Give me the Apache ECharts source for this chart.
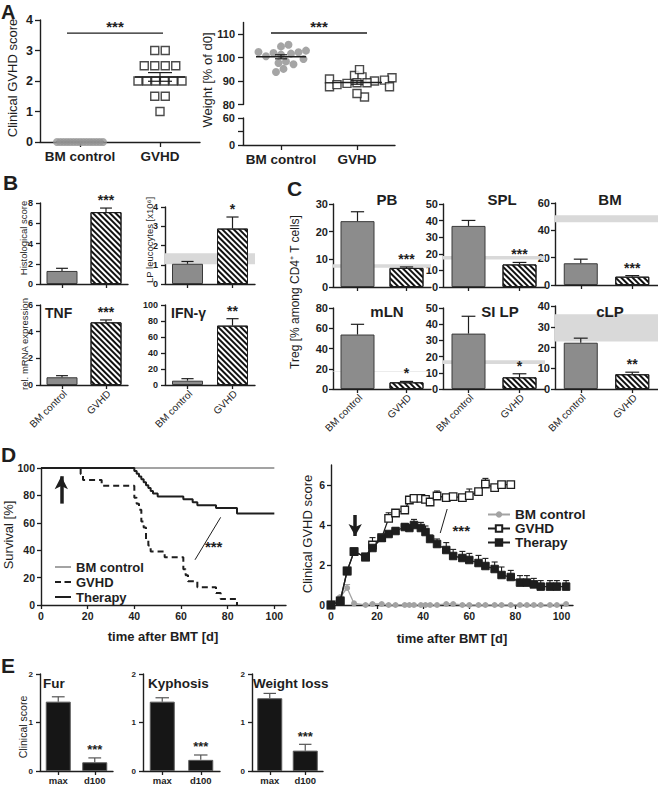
<!DOCTYPE html>
<html><head><meta charset="utf-8">
<script src="https://cdn.jsdelivr.net/npm/echarts@6/dist/echarts.min.js"></script>
<style>html,body{margin:0;padding:0;background:#fff}#c{width:658px;height:785px}</style>
</head><body><div id="c"></div>
<script>
// ===================== DATA =====================
const groups = ['BM control', 'GVHD'];

// A: per-mouse clinical score and weight
const aScoreBM = [0,0,0,0,0,0,0,0,0,0,0,0,0,0,0];
const aScoreGVHD = [3,3,2.5,2.5,2.5,2.5,2,2,2,2,2,2,1.5,1.5,1];
const aWeightBM = [104.8,105.5,101.7,102.4,102,102.3,103,101.3,100.6,99.4,98.4,97.2,97.7,93.9,95.2];
const aWeightGVHD = [90.9,92.4,91.8,91.4,94.9,90.4,90,89.3,87.6,87.6,89,89.3,83.2,84.7,88.5];
const aWeightTicks = [80,90,100,110];
const aWeightLowTicks = [0,30,60];
const aWeightLowLabels = [0,60];
const aStars = ['***','***'];

// B: BM control / GVHD means and SEM
const bHist = [1.29, 7.1],  bHistErr = [0.26, 0.4];
const bLP   = [1.05, 2.88], bLPErr   = [0.12, 0.6], bLPBand = [1.03, 1.6];
const bTNF  = [0.58, 4.7],  bTNFErr  = [0.12, 0.18];
const bIFN  = [5.4, 74.2],  bIFNErr  = [2.5, 8.7];
const bStars = ['***','*','***','**'];

// C: Treg frequencies
const cTissues = ['PB','SPL','BM','mLN','SI LP','cLP'];
const cBM      = [23.8, 36.8, 15.9, 53.8, 34.2, 22.3];
const cBMErr   = [3.4, 3.3, 3.0, 10.1, 10.7, 2.2];
const cGVHD    = [6.9, 13.6, 6.1, 6.6, 7.2, 7.1];
const cGVHDErr = [0.35, 1.2, 0.8, 0.9, 2.2, 1.0];
const cBandLow  = [7.0, 16.6, 46, 17.0, 15.4, 22.9];
const cBandHigh = [8.2, 18.6, 51, 17.6, 17.8, 36];
const cMax  = [30, 50, 60, 80, 50, 40];
const cStep = [10, 10, 20, 20, 10, 10];
const cStars = ['***','***','***','*','*','**'];

// D left: Kaplan-Meier survival [day, %]
const survBM = [[0,100],[100,100]];
const survGVHD = [[0,100],[17,95.7],[18,91.3],[26,87],[40,78.3],[41,73.9],[42,69.6],[43,60.9],[44,56.5],[45,47.8],[46,43.5],[47,39.1],[53,34.8],[61,26.1],[62,21.7],[63,17.4],[67,13],[75,8.7],[77,4.3],[84,0]];
const survTherapy = [[0,100],[40,97.9],[41,95.8],[42,93.8],[43,91.7],[44,89.6],[45,87.5],[46,85.4],[47,83.3],[48,81.3],[50,79.2],[61,77.1],[65,75],[67,72.9],[75,70.8],[84,66.7],[100,66.7]];
const dTicks = [0,20,40,60,80,100];

// D right: clinical score over time
const dDays = [0,4,7,10,15,18,22,25,28,32,34,36,39,41,43,46,50,53,57,60,64,67,71,74,78,82,85,88,91,95,98,102];
const dScoreGVHD = [0,0.2,1.7,2.67,2.4,3.0,3.37,4.33,4.6,4.75,5.25,5.33,5.33,5.28,5.15,5.45,5.37,5.42,5.37,5.47,5.67,6.05,5.87,6.02,6.02];
const dErrGVHD   = [0,0.05,0.1,0.15,0.1,0.37,0.12,0.28,0.15,0.12,0.1,0.15,0.15,0.12,0.1,0.25,0.12,0.1,0.1,0.33,0.15,0.28,0.1,0.1,0.1];
const dScoreTherapy = [0,0.2,1.7,2.67,2.4,2.85,3.35,3.55,3.7,3.9,3.85,4.0,3.85,3.65,3.3,3.05,2.75,2.45,2.35,2.25,2.1,1.95,1.8,1.5,1.4,1.12,1.12,1.03,0.92,0.92,0.92,0.92];
const dErrTherapy   = [0,0.05,0.1,0.15,0.1,0.15,0.12,0.12,0.15,0.15,0.12,0.28,0.28,0.3,0.2,0.25,0.37,0.33,0.33,0.33,0.38,0.38,0.35,0.4,0.33,0.35,0.35,0.3,0.3,0.3,0.3,0.3];
const dScoreBM = [0,0.4,0.85,0.08,0,0.05,0.05,0,0,0,0,0,0,0,0,0,0.05,0.05,0,0,0,0,0,0,0,0,0,0,0,0,0,0.05];
const dErrBM   = [0,0.05,0.17,0,0,0,0,0,0,0,0,0,0,0,0,0,0,0,0,0,0,0,0,0,0,0,0,0,0,0,0,0];
const dScoreTicks = [0,2,4,6];

// E: clinical sub-scores
const eSigns = ['Fur','Kyphosis','Weight loss'];
const eCats = ['max','d100'];
const eMax  = [1.43, 1.43, 1.5], eMaxErr  = [0.1, 0.08, 0.1];
const eD100 = [0.18, 0.23, 0.42], eD100Err = [0.09, 0.1, 0.13];
const eStars = ['***','***','***'];

// ===================== BUILD =====================
const FONT = "'Liberation Sans', Arial, Helvetica, sans-serif";
const INK = '#1e1e1e';
const grid = [], xAxis = [], yAxis = [], series = [], graphic = [];

function addGrid(box, xa, ya) {
  const i = grid.length;
  grid.push(box);
  xa.gridIndex = i; ya.gridIndex = i;
  xAxis.push(xa); yAxis.push(ya);
  return i;
}
function axisBase(fs, bold, margin) {
  return {
    axisLine: {show: true, onZero: false, lineStyle: {color: INK, width: 1.4}},
    axisTick: {show: true, inside: false, length: 4, lineStyle: {color: INK, width: 1.3}},
    splitLine: {show: false},
    axisLabel: {color: INK, fontFamily: FONT, fontSize: fs, fontWeight: bold === false ? 'normal' : 'bold', margin: margin == null ? 6 : margin}
  };
}
function valueAxis(min, max, interval, fs, margin, ticks, labels) {
  const a = axisBase(fs, true, margin);
  a.type = 'value'; a.min = min; a.max = max; a.interval = interval;
  if (ticks) { a.axisTick.customValues = ticks; a.axisLabel.customValues = labels || ticks; }
  return a;
}
function categoryAxis(data, fs, bold, margin) {
  const a = axisBase(fs, bold, margin);
  a.type = 'category'; a.data = data; a.boundaryGap = true;
  a.axisTick.alignWithLabel = true;
  a.axisLabel.interval = 0;
  return a;
}
function txt(text, x, y, size, opt) {
  opt = opt || {};
  graphic.push({type: 'text', x: x, y: y, rotation: opt.rot || 0, silent: true, z: 100,
    style: {text: text, x: 0, y: 0, fill: INK, fontFamily: FONT, fontSize: size,
      fontWeight: opt.weight || 'normal', align: opt.align || 'center', verticalAlign: 'middle',
      textAlign: opt.align || 'center', textVerticalAlign: 'middle'}});
}
const V = Math.PI / 2;

// slanted category labels (45 deg, hanging below the axis, ending at the tick)
function slantLabels(gi, cats, fs) {
  series.push({type: 'custom', xAxisIndex: gi, yAxisIndex: gi, z: 7, silent: true, clip: false,
    data: cats.map((c, i) => [i, yAxis[gi].min]), encode: {x: 0, y: 1},
    renderItem: function (params, api) {
      const p = api.coord([api.value(0), api.value(1)]);
      return {type: 'text', x: p[0] + 3, y: p[1] + 7, rotation: Math.PI / 4,
        style: {text: cats[params.dataIndex], x: 0, y: 0, align: 'right', verticalAlign: 'middle', fontSize: fs, fontFamily: FONT, fill: INK}};
    }});
}

// error bars (upward) + optional significance text
function errorBars(gi, vals, errs, stars, opt) {
  const items = vals.map((v, i) => [opt.xs ? opt.xs[i] : i, v, errs[i]]);
  series.push({type: 'custom', xAxisIndex: gi, yAxisIndex: gi, z: opt.z || 5, silent: true,
    data: items, encode: {x: 0, y: 1},
    renderItem: function (params, api) {
      const x = api.value(0), v = api.value(1), e = api.value(2);
      const base = api.coord([x, v]), top = api.coord([x, v + e]);
      const half = opt.capPx != null ? opt.capPx / 2 : api.size([1, 0])[0] * opt.capFrac / 2;
      const st = {stroke: opt.color || INK, lineWidth: opt.lw || 1.2};
      const ch = [];
      if (e > 0) {
        ch.push({type: 'line', shape: {x1: base[0], y1: base[1], x2: top[0], y2: top[1]}, style: st});
        ch.push({type: 'line', shape: {x1: top[0] - half, y1: top[1], x2: top[0] + half, y2: top[1]}, style: st});
      }
      const s = stars ? stars[params.dataIndex] : '';
      if (s) ch.push({type: 'text', style: {text: s, x: top[0], y: top[1] - opt.starGap, align: 'center', verticalAlign: 'middle',
        fontSize: opt.starSize, fontWeight: 'bold', fontFamily: FONT, fill: INK}});
      return {type: 'group', children: ch};
    }});
}

const grayFill = {color: '#8c8c8c', borderColor: '#3a3a3a', borderWidth: 1};
const hatchFill = {color: '#ffffff', borderColor: INK, borderWidth: 1,
  decal: {symbol: 'rect', symbolSize: 1, color: '#111111', backgroundColor: '#ffffff', dashArrayX: [1, 0], dashArrayY: [1.5, 1.8], rotation: Math.PI / 4}};
const blackFill = {color: '#161616', borderColor: '#5a5a5a', borderWidth: 1};

function barPanel(box, cats, vals, errs, yMax, yStep, o) {
  const xa = categoryAxis(cats, o.xfs, o.xbold, o.xmargin);
  if (o.slant || o.noLabels) xa.axisLabel.show = false;
  const gi = addGrid(box, xa, valueAxis(0, yMax, yStep, o.yfs, o.ymargin));
  if (o.band) series.push({type: 'line', xAxisIndex: gi, yAxisIndex: gi, data: [], z: 1, silent: true,
    markArea: {silent: true, animation: false, itemStyle: {color: '#d9d9d9'}, data: [[{yAxis: o.band[0]}, {yAxis: o.band[1]}]]}});
  series.push({type: 'bar', xAxisIndex: gi, yAxisIndex: gi, z: 2, silent: true, barWidth: o.barWidth,
    data: vals.map((v, i) => ({value: v, itemStyle: o.styles[i]}))});
  errorBars(gi, vals, errs, o.stars, {capFrac: o.capFrac || 0.27, color: o.errColor || INK, lw: 1.2, starGap: o.starGap, starSize: o.starSize});
  if (o.slant) slantLabels(gi, cats, o.xfs);
  return gi;
}

// swarm helpers (layout of identical / close values)
function rowSwarm(values, maxSpan, step) {
  const by = {};
  values.forEach((v, i) => { (by[v] = by[v] || []).push(i); });
  const off = values.map(() => 0);
  Object.keys(by).forEach(k => {
    const idx = by[k], n = idx.length;
    const s = n > 1 ? Math.min(step, maxSpan / (n - 1)) : 0;
    idx.forEach((p, j) => { off[p] = (j - (n - 1) / 2) * s; });
  });
  return off;
}
function beeswarm(values, pxPerUnit, size) {
  const sorted = values.slice().sort((a, b) => a - b);
  const med = sorted[Math.floor(sorted.length / 2)];
  const order = values.map((v, i) => i).sort((a, b) => Math.abs(values[a] - med) - Math.abs(values[b] - med));
  const placed = [], off = values.map(() => 0);
  order.forEach(k => {
    const y = values[k] * pxPerUnit;
    for (let j = 0; j < 60; j++) {
      const c = (j % 2 ? 1 : -1) * Math.ceil(j / 2) * 2.5;
      if (placed.every(p => Math.hypot(p.x - c, p.y - y) >= size * 0.95)) { off[k] = c; placed.push({x: c, y: y}); break; }
    }
  });
  return off;
}
function mean(a) { return a.reduce((s, v) => s + v, 0) / a.length; }
function sem(a) { const m = mean(a); return Math.sqrt(a.reduce((s, v) => s + (v - m) * (v - m), 0) / (a.length - 1)) / Math.sqrt(a.length); }
function meanLines(gi, items, o) {
  series.push({type: 'custom', xAxisIndex: gi, yAxisIndex: gi, z: o.z, silent: true, data: items, encode: {x: 0, y: 1},
    renderItem: function (params, api) {
      const x = api.value(0), m = api.value(1), s = api.value(2);
      const c = api.coord([x, m]), hi = api.coord([x, m + s]), lo = api.coord([x, m - s]);
      const st = {stroke: INK, lineWidth: 1.6};
      const ch = [{type: 'line', shape: {x1: c[0] - o.halfWidth, y1: c[1], x2: c[0] + o.halfWidth, y2: c[1]}, style: st}];
      if (s > 0) {
        const t = {stroke: INK, lineWidth: 1.2};
        ch.push({type: 'line', shape: {x1: c[0], y1: hi[1], x2: c[0], y2: lo[1]}, style: t});
        ch.push({type: 'line', shape: {x1: c[0] - o.halfCap, y1: hi[1], x2: c[0] + o.halfCap, y2: hi[1]}, style: t});
        ch.push({type: 'line', shape: {x1: c[0] - o.halfCap, y1: lo[1], x2: c[0] + o.halfCap, y2: lo[1]}, style: t});
      }
      return {type: 'group', children: ch};
    }});
}
function bracket(gi, yVal, star, ext0, ext1) {
  series.push({type: 'custom', xAxisIndex: gi, yAxisIndex: gi, z: 6, silent: true, data: [[0, yVal]], encode: {x: 0, y: 1},
    renderItem: function (params, api) {
      const y = api.value(1);
      const p0 = api.coord([0, y]), p1 = api.coord([1, y]);
      const x0 = p0[0] - ext0, x1 = p1[0] + ext1;
      return {type: 'group', children: [
        {type: 'line', shape: {x1: x0, y1: p0[1], x2: x1, y2: p0[1]}, style: {stroke: INK, lineWidth: 1.4}},
        {type: 'text', style: {text: star, x: (x0 + x1) / 2, y: p0[1] - 7, align: 'center', verticalAlign: 'middle', fontSize: 15, fontWeight: 'bold', fontFamily: FONT, fill: INK}}]};
    }});
}

// ---------- Panel A left ----------
(function () {
  const gi = addGrid({left: 40, top: 20, width: 160, height: 122},
    categoryAxis(groups, 13.5, true, 7), valueAxis(0, 4, 1, 12.5, 7));
  yAxis[gi].axisTick.length = 5; xAxis[gi].axisTick.length = 5;
  meanLines(gi, [[0, mean(aScoreBM), sem(aScoreBM)]], {z: 2, halfWidth: 24, halfCap: 12});
  const offBM = rowSwarm(aScoreBM, 46, 10.5), offG = rowSwarm(aScoreGVHD, 44, 10.5);
  series.push({type: 'scatter', xAxisIndex: gi, yAxisIndex: gi, z: 3, silent: true, symbol: 'circle', symbolSize: 8,
    itemStyle: {color: '#939393'}, data: aScoreBM.map((v, i) => ({value: [0, v], symbolOffset: [offBM[i], 0]}))});
  series.push({type: 'scatter', xAxisIndex: gi, yAxisIndex: gi, z: 4, silent: true, symbol: 'rect', symbolSize: 8,
    itemStyle: {color: '#fff', borderColor: INK, borderWidth: 1.4},
    data: aScoreGVHD.map((v, i) => ({value: [1, v], symbolOffset: [offG[i], 0]}))});
  meanLines(gi, [[1, mean(aScoreGVHD), sem(aScoreGVHD)]], {z: 6, halfWidth: 25, halfCap: 12});
  bracket(gi, 3.57, aStars[0], 13, 3);
})();

// ---------- Panel A right (broken axis) ----------
(function () {
  const upX = categoryAxis(groups, 13.5, true, 7); upX.show = false;
  const gi = addGrid({left: 243, top: 22.5, width: 152, height: 82}, upX,
    valueAxis(80, 115, 10, 11, 8, aWeightTicks, aWeightTicks));
  yAxis[gi].axisTick.length = 5;
  const lo = addGrid({left: 243, top: 118, width: 152, height: 27}, categoryAxis(groups, 13.5, true, 7),
    valueAxis(0, 60, 30, 11, 8, aWeightLowTicks, aWeightLowLabels));
  yAxis[lo].axisTick.length = 5; xAxis[lo].axisTick.length = 5;
  series.push({type: 'line', xAxisIndex: lo, yAxisIndex: lo, data: [], silent: true});
  const ppu = 82 / 35;
  const offBM = beeswarm(aWeightBM, ppu, 8), offG = beeswarm(aWeightGVHD, ppu, 8);
  series.push({type: 'scatter', xAxisIndex: gi, yAxisIndex: gi, z: 3, silent: true, symbol: 'circle', symbolSize: 8,
    itemStyle: {color: '#8f8f8f'}, data: aWeightBM.map((v, i) => ({value: [0, v], symbolOffset: [offBM[i], 0]}))});
  series.push({type: 'scatter', xAxisIndex: gi, yAxisIndex: gi, z: 3, silent: true, symbol: 'rect', symbolSize: 8,
    itemStyle: {color: '#fff', borderColor: INK, borderWidth: 1.4},
    data: aWeightGVHD.map((v, i) => ({value: [1, v], symbolOffset: [offG[i], 0]}))});
  meanLines(gi, [[0, mean(aWeightBM), sem(aWeightBM)], [1, mean(aWeightGVHD), sem(aWeightGVHD)]], {z: 6, halfWidth: 25, halfCap: 6});
  bracket(gi, 110.5, aStars[1], 10, 10);
})();

// ---------- Panel B ----------
const bOpt = {xfs: 10, xbold: false, xmargin: 4, yfs: 9, ymargin: 7, barWidth: 31, styles: [grayFill, hatchFill], starGap: 8, starSize: 14};
barPanel({left: 40, top: 203, width: 88, height: 81}, groups, bHist, bHistErr, 8, 2, Object.assign({}, bOpt, {noLabels: true, stars: ['', bStars[0]]}));
barPanel({left: 165, top: 207, width: 90, height: 77}, groups, bLP, bLPErr, 4, 1, Object.assign({}, bOpt, {noLabels: true, stars: ['', bStars[1]], band: bLPBand}));
barPanel({left: 40, top: 305, width: 88, height: 80}, groups, bTNF, bTNFErr, 6, 2, Object.assign({}, bOpt, {slant: true, stars: ['', bStars[2]]}));
barPanel({left: 165, top: 305, width: 90, height: 80}, groups, bIFN, bIFNErr, 100, 20, Object.assign({}, bOpt, {slant: true, stars: ['', bStars[3]]}));

// ---------- Panel C ----------
const cBoxes = [
  {left: 333, top: 204, width: 98, height: 83}, {left: 443, top: 204, width: 102, height: 83}, {left: 555, top: 203, width: 103, height: 82},
  {left: 333, top: 308, width: 98, height: 81}, {left: 443, top: 308, width: 102, height: 81}, {left: 555, top: 306, width: 103, height: 83}];
const cTitlePos = [[387, 199], [502, 199], [610, 199], [387, 311], [500, 311], [610, 311]];
cTissues.forEach((t, i) => {
  barPanel(cBoxes[i], groups, [cBM[i], cGVHD[i]], [cBMErr[i], cGVHDErr[i]], cMax[i], cStep[i],
    {xfs: 10, slant: i >= 3, noLabels: i < 3, xbold: false, xmargin: 4, yfs: 11, ymargin: 5, barWidth: 34, styles: [grayFill, hatchFill],
     stars: ['', cStars[i]], starGap: 8, starSize: 14, band: [cBandLow[i], cBandHigh[i]]});
  txt(t, cTitlePos[i][0], cTitlePos[i][1], 15, {weight: 'bold'});
});

// ---------- Panel D left: survival ----------
(function () {
  const gi = addGrid({left: 41, top: 468, width: 245, height: 137},
    valueAxis(0, 105, 20, 10.5, 5, dTicks, dTicks), valueAxis(0, 100, 20, 10.5, 6));
  series.push({name: 'BM control', type: 'line', xAxisIndex: gi, yAxisIndex: gi, step: 'end', symbol: 'none', showSymbol: false, silent: true, z: 2,
    lineStyle: {color: '#a3a3a3', width: 2}, itemStyle: {color: '#a3a3a3'}, data: survBM});
  series.push({name: 'GVHD', type: 'line', xAxisIndex: gi, yAxisIndex: gi, step: 'end', symbol: 'none', showSymbol: false, silent: true, z: 3,
    lineStyle: {color: INK, width: 2, type: [6, 4]}, itemStyle: {color: INK}, data: survGVHD});
  series.push({name: 'Therapy', type: 'line', xAxisIndex: gi, yAxisIndex: gi, step: 'end', symbol: 'none', showSymbol: false, silent: true, z: 4,
    lineStyle: {color: INK, width: 2}, itemStyle: {color: INK}, data: survTherapy,
    markLine: {silent: true, animation: false, symbol: 'none', label: {show: false}, data: [
      [{coord: [66, 33], symbol: 'none', lineStyle: {color: INK, width: 1, type: 'solid'}}, {coord: [77, 64], symbol: 'none', lineStyle: {color: INK, width: 1, type: 'solid'}}],
      [{coord: [8.7, 74], symbol: 'none', lineStyle: {color: INK, width: 3.5, type: 'solid'}}, {coord: [8.7, 94], symbol: 'arrow', symbolSize: [10, 13], lineStyle: {color: INK, width: 3.5, type: 'solid'}}]
    ]},
    markPoint: {silent: true, animation: false, data: [{coord: [74, 43], symbol: 'circle', symbolSize: 0,
      label: {show: true, position: 'inside', formatter: '***', fontSize: 15, fontWeight: 'bold', fontFamily: FONT, color: INK}}]}});
})();

// ---------- Panel D right: clinical score ----------
(function () {
  const gi = addGrid({left: 331, top: 465, width: 242, height: 140},
    valueAxis(0, 105, 20, 10.5, 5, dTicks, dTicks), valueAxis(0, 7, 2, 10.5, 6, dScoreTicks, dScoreTicks));
  errorBars(gi, dScoreBM, dErrBM, null, {xs: dDays, capPx: 6, color: '#a0a0a0', lw: 1.1, z: 2});
  errorBars(gi, dScoreGVHD, dErrGVHD, null, {xs: dDays, capPx: 6, color: INK, lw: 1.1, z: 3});
  errorBars(gi, dScoreTherapy, dErrTherapy, null, {xs: dDays, capPx: 6, color: INK, lw: 1.1, z: 3});
  series.push({name: 'BM control ', type: 'line', xAxisIndex: gi, yAxisIndex: gi, silent: true, z: 4, symbol: 'circle', symbolSize: 6,
    lineStyle: {color: '#a3a3a3', width: 1.3}, itemStyle: {color: '#a3a3a3'},
    data: dScoreBM.map((v, i) => [dDays[i], v])});
  series.push({name: 'GVHD ', type: 'line', xAxisIndex: gi, yAxisIndex: gi, silent: true, z: 5, symbol: 'rect', symbolSize: 7.5,
    lineStyle: {color: INK, width: 1.3}, itemStyle: {color: '#fff', borderColor: INK, borderWidth: 1.3},
    data: dScoreGVHD.map((v, i) => [dDays[i], v])});
  series.push({name: 'Therapy ', type: 'line', xAxisIndex: gi, yAxisIndex: gi, silent: true, z: 6, symbol: 'rect', symbolSize: 7.5,
    lineStyle: {color: INK, width: 1.3}, itemStyle: {color: INK, borderColor: INK, borderWidth: 1},
    data: dScoreTherapy.map((v, i) => [dDays[i], v]),
    markLine: {silent: true, animation: false, symbol: 'none', label: {show: false}, data: [
      [{coord: [47.4, 3.6], symbol: 'none', lineStyle: {color: INK, width: 1, type: 'solid'}}, {coord: [50.4, 4.8], symbol: 'none', lineStyle: {color: INK, width: 1, type: 'solid'}}],
      [{coord: [10.5, 4.5], symbol: 'none', lineStyle: {color: INK, width: 3.5, type: 'solid'}}, {coord: [10.5, 3.45], symbol: 'arrow', symbolSize: [10, 12], lineStyle: {color: INK, width: 3.5, type: 'solid'}}]
    ]},
    markPoint: {silent: true, animation: false, data: [{coord: [56.5, 3.75], symbol: 'circle', symbolSize: 0,
      label: {show: true, position: 'inside', formatter: '***', fontSize: 15, fontWeight: 'bold', fontFamily: FONT, color: INK}}]}});
})();

// ---------- Panel E ----------
const eBoxes = [{left: 40, top: 674, width: 73, height: 98}, {left: 143, top: 674, width: 77, height: 98}, {left: 252, top: 674, width: 71, height: 98}];
const eTitleX = [43, 148, 253];
eSigns.forEach((s, i) => {
  barPanel(eBoxes[i], eCats, [eMax[i], eD100[i]], [eMaxErr[i], eD100Err[i]], 2, 1,
    {xfs: 9.5, xbold: true, xmargin: 4, yfs: 8, ymargin: 7, barWidth: 25, styles: [blackFill, blackFill],
     stars: ['', eStars[i]], starGap: 8, starSize: 13, errColor: '#555', capFrac: 0.35});
  txt(s, eTitleX[i], 683, 13.5, {weight: 'bold', align: 'left'});
});

// ---------- Texts ----------
txt('A', 1, 12, 20, {weight: 'bold', align: 'left'});
txt('B', 3, 182, 21, {weight: 'bold', align: 'left'});
txt('C', 287, 188, 21, {weight: 'bold', align: 'left'});
txt('D', 1, 454, 21, {weight: 'bold', align: 'left'});
txt('E', 1, 665, 21, {weight: 'bold', align: 'left'});
txt('Clinical GVHD score', 12, 78, 13, {rot: V});
txt('Weight [% of d0]', 207, 80, 13, {rot: V});
txt('Histological score', 23, 238, 9.5, {rot: V});
txt('rel. mRNA expression', 24, 344, 9.5, {rot: V});
txt('LP leucocytes [x10\u2076]', 149, 240, 9.5, {rot: V});
txt('TNF', 45, 313, 14, {weight: 'bold', align: 'left'});
txt('IFN-\u03b3', 171, 313, 14, {weight: 'bold', align: 'left'});
txt('Treg [% among CD4\u207a T cells]', 295, 292, 12, {rot: V});
txt('Survival [%]', 8, 535, 13, {rot: V});
txt('time after BMT [d]', 163, 636, 13, {weight: 'bold'});
txt('Clinical GVHD score', 307, 534, 13, {rot: V});
txt('time after BMT [d]', 452, 638, 13, {weight: 'bold'});
txt('Clinical score', 23, 727, 10.5, {rot: V});

// legend icons for the survival curves (thin solid / dashed strokes)
const lineIcon = 'path://M0,0h0.1v0.1h-0.1z M0,3.1h16v1.9h-16z M15.9,7.9h0.1v0.1h-0.1z';
const dashIcon = 'path://M0,0h0.1v0.1h-0.1z M0,3.1h6v1.9h-6z M9.5,3.1h6.5v1.9h-6.5z M15.9,7.9h0.1v0.1h-0.1z';

const chart = echarts.init(document.getElementById('c'), null, {renderer: 'svg'});
chart.setOption({
  animation: false,
  backgroundColor: '#fff',
  textStyle: {fontFamily: FONT},
  grid: grid, xAxis: xAxis, yAxis: yAxis, series: series, graphic: graphic,
  legend: [
    {orient: 'vertical', left: 55, top: 559.5, padding: 0, itemWidth: 16, itemHeight: 8, itemGap: 0, selectedMode: false,
     data: [{name: 'BM control', icon: lineIcon}, {name: 'GVHD', icon: dashIcon}, {name: 'Therapy', icon: lineIcon}],
     textStyle: {fontFamily: FONT, fontSize: 13, fontWeight: 'bold', color: INK, lineHeight: 15}},
    {orient: 'vertical', left: 487, top: 507.5, padding: 0, itemWidth: 22, itemHeight: 8, itemGap: 0, selectedMode: false,
     data: ['BM control ', 'GVHD ', 'Therapy '],
     textStyle: {fontFamily: FONT, fontSize: 13.5, fontWeight: 'bold', color: INK, lineHeight: 12.5}}
  ]
});
</script>
</body></html>
